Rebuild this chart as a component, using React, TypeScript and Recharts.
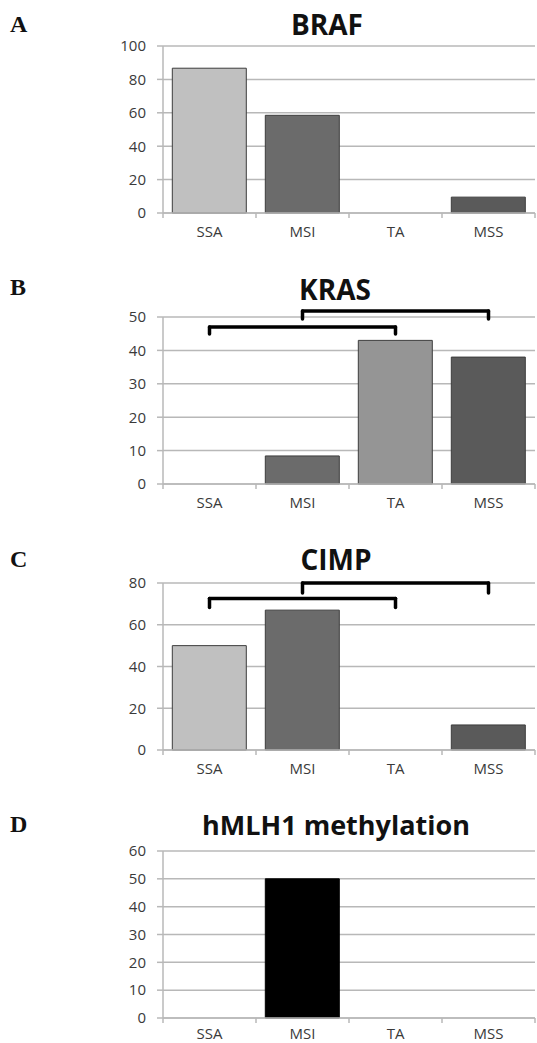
import React from 'react'
import { BarChart, Bar, XAxis, YAxis, CartesianGrid, Cell, ReferenceLine } from 'recharts'

// groups along the x axis
const categories = ['SSA', 'MSI', 'TA', 'MSS']

// percentages
const brafValues = [86.7, 58.5, 0, 9.5]
const krasValues = [0, 8.4, 43, 38]
const cimpValues = [50, 67, 0, 12]
const hmlh1Values = [0, 50, 0, 0]

// y ticks per panel
const brafTicks = [0, 20, 40, 60, 80, 100]
const krasTicks = [0, 10, 20, 30, 40, 50]
const cimpTicks = [0, 20, 40, 60, 80]
const hmlh1Ticks = [0, 10, 20, 30, 40, 50, 60]

// significance brackets: between two groups, level and leg drop in y units
const krasBrackets = [
  { from: 'SSA', to: 'TA', level: 47, drop: 2.1 },
  { from: 'MSI', to: 'MSS', level: 51.8, drop: 2.4 },
]
const cimpBrackets = [
  { from: 'SSA', to: 'TA', level: 72.6, drop: 4.3 },
  { from: 'MSI', to: 'MSS', level: 80, drop: 4.8 },
]

const greyColors = ['#c0c0c0', '#6b6b6b', '#959595', '#5a5a5a']
const blackColors = ['#000000', '#000000', '#000000', '#000000']

const PLOT_H = 167
const MARGIN_TOP = 10
const AXIS_GREY = '#b8b8b8'
const FONT = "'Open Sans', sans-serif"

type Bracket = { from: string; to: string; level: number; drop: number }

function Panel({ top, values, ticks, colors, brackets = [], barStroke, labelGap = 9 }: {
  top: number
  values: number[]
  ticks: number[]
  colors: string[]
  brackets?: Bracket[]
  barStroke: string
  labelGap?: number
}) {
  const data = categories.map((name, i) => ({ name, value: values[i] }))
  const yMax = ticks[ticks.length - 1]
  const tickDrop = (yMax * 5) / PLOT_H

  const bracketLine = { stroke: '#000', strokeWidth: 3.5, strokeLinecap: 'round' as const, ifOverflow: 'visible' as const }

  return (
    <div style={{ position: 'absolute', left: 0, top }}>
      <BarChart
        width={537}
        height={MARGIN_TOP + PLOT_H + 30}
        data={data}
        margin={{ top: MARGIN_TOP, right: 2, left: 0, bottom: 0 }}
        barCategoryGap="10%"
      >
        <CartesianGrid vertical={false} stroke={AXIS_GREY} strokeWidth={1.5} />
        <XAxis
          dataKey="name"
          interval={0}
          height={30}
          tickLine={false}
          tickSize={4}
          tickMargin={labelGap}
          axisLine={{ stroke: AXIS_GREY, strokeWidth: 1.5 }}
          tick={{ fill: '#3a3a3a', fontSize: 15, fontFamily: FONT }}
        />
        <YAxis
          width={163}
          domain={[0, yMax]}
          ticks={ticks}
          interval={0}
          tickSize={6}
          tickMargin={11}
          axisLine={{ stroke: AXIS_GREY, strokeWidth: 1.5 }}
          tickLine={{ stroke: AXIS_GREY, strokeWidth: 1.5 }}
          tick={{ fill: '#3a3a3a', fontSize: 15, fontFamily: FONT }}
        />
        <Bar dataKey="value" isAnimationActive={false} stroke={barStroke} strokeWidth={1}>
          {data.map((d, i) => (
            <Cell key={d.name} fill={colors[i]} />
          ))}
        </Bar>
        {/* tick marks on the category boundaries */}
        {categories.map((c) => (
          <ReferenceLine
            key={'e' + c}
            ifOverflow="visible"
            position="start"
            segment={[{ x: c, y: 0 }, { x: c, y: -tickDrop }]}
            stroke={AXIS_GREY}
            strokeWidth={1.5}
          />
        ))}
        <ReferenceLine
          ifOverflow="visible"
          position="end"
          segment={[{ x: categories[3], y: 0 }, { x: categories[3], y: -tickDrop }]}
          stroke={AXIS_GREY}
          strokeWidth={1.5}
        />
        {brackets.map((b, i) => [
          <ReferenceLine key={'h' + i} {...bracketLine} segment={[{ x: b.from, y: b.level }, { x: b.to, y: b.level }]} />,
          <ReferenceLine key={'l' + i} {...bracketLine} segment={[{ x: b.from, y: b.level }, { x: b.from, y: b.level - b.drop }]} />,
          <ReferenceLine key={'r' + i} {...bracketLine} segment={[{ x: b.to, y: b.level }, { x: b.to, y: b.level - b.drop }]} />,
        ])}
      </BarChart>
    </div>
  )
}

export default function App() {
  return (
    <div style={{ position: 'absolute', left: 0, top: 0, width: 537, height: 1043, background: '#fff' }}>
      <Panel top={46 - MARGIN_TOP} values={brafValues} ticks={brafTicks} colors={greyColors} barStroke="#3c3c3c" />
      <Panel top={317 - MARGIN_TOP} values={krasValues} ticks={krasTicks} colors={greyColors} brackets={krasBrackets} barStroke="#3c3c3c" />
      <Panel top={583 - MARGIN_TOP} values={cimpValues} ticks={cimpTicks} colors={greyColors} brackets={cimpBrackets} barStroke="#3c3c3c" />
      <Panel top={851 - MARGIN_TOP} values={hmlh1Values} ticks={hmlh1Ticks} colors={blackColors} barStroke="#000" labelGap={6} />

      <svg width={537} height={1043} style={{ position: 'absolute', left: 0, top: 0, pointerEvents: 'none' }}>
        <g fontFamily="'Liberation Serif', serif" fontWeight="bold" fontSize={24} fill="#111">
          <text x={10} y={32}>A</text>
          <text x={10} y={295}>B</text>
          <text x={10} y={567}>C</text>
          <text x={10} y={832}>D</text>
        </g>
        <g fontFamily={FONT} fontWeight="bold" fontSize={28} fill="#111" textAnchor="middle">
          <text x={327} y={35}>BRAF</text>
          <text x={335} y={300}>KRAS</text>
          <text x={336} y={570}>CIMP</text>
          <text x={336} y={835} fontSize={27}>hMLH1 methylation</text>
        </g>
      </svg>
    </div>
  )
}
